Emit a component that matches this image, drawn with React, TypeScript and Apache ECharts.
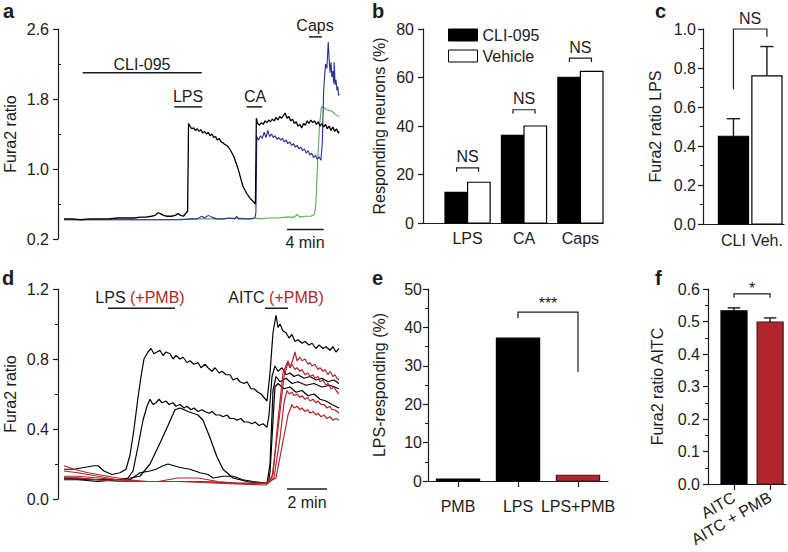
import React, { useEffect, useRef } from 'react';
import * as echarts from 'echarts';

const FONT = "'Liberation Sans', Arial, Helvetica, sans-serif";
const INK = '#1c1c1c';
const RED = '#b2262d';
const RED_EDGE = '#4a1214';
const BLUE = '#2c3092';
const GREEN = '#58ad4c';

// ---------- panel a : Fura2 traces (time in min, ratio) ----------
const aBlack = [[0.65,0.43],[1.5,0.43],[2.5,0.42],[3.5,0.43],[4.5,0.43],[5.5,0.43],[6.5,0.44],[7.5,0.44],[8.3,0.44],[9,0.45],[9.6,0.45],[10.2,0.46],[10.6,0.47],[10.9,0.50],[11.2,0.49],[11.5,0.47],[11.9,0.46],[12.4,0.46],[12.8,0.47],[13.1,0.49],[13.4,0.47],[13.7,0.46],[14.0,0.50],[14.15,0.52],[14.25,1.52],[14.4,1.49],[14.6,1.46],[14.8,1.47],[15.0,1.44],[15.2,1.46],[15.4,1.43],[15.6,1.45],[15.8,1.41],[16.0,1.43],[16.2,1.40],[16.4,1.42],[16.6,1.38],[16.8,1.40],[17.0,1.36],[17.2,1.37],[17.4,1.33],[17.6,1.35],[17.8,1.31],[18.0,1.30],[18.2,1.28],[18.4,1.27],[18.6,1.25],[18.8,1.22],[19.0,1.18],[19.2,1.14],[19.4,1.08],[19.6,1.02],[19.8,0.95],[20.0,0.87],[20.2,0.80],[20.4,0.76],[20.6,0.72],[20.8,0.69],[21.0,0.66],[21.2,0.64],[21.4,0.62],[21.55,0.60],[21.65,1.58],[21.8,1.52],[22.0,1.50],[22.2,1.53],[22.4,1.51],[22.6,1.55],[22.8,1.53],[23.0,1.56],[23.2,1.54],[23.4,1.57],[23.6,1.55],[23.8,1.59],[24.0,1.56],[24.2,1.60],[24.4,1.58],[24.6,1.61],[24.8,1.64],[25.0,1.58],[25.2,1.60],[25.4,1.55],[25.6,1.57],[25.8,1.52],[26.0,1.54],[26.2,1.49],[26.4,1.51],[26.6,1.47],[26.8,1.52],[27.0,1.50],[27.2,1.55],[27.4,1.52],[27.6,1.56],[27.8,1.53],[28.0,1.55],[28.2,1.51],[28.4,1.54],[28.6,1.49],[28.8,1.52],[29.0,1.48],[29.2,1.51],[29.4,1.46],[29.6,1.49],[29.8,1.44],[30.0,1.48],[30.2,1.43],[30.4,1.46],[30.6,1.41],[30.7,1.43]];
const aBlue = [[0.65,0.42],[2,0.42],[4,0.42],[6,0.42],[8,0.42],[10,0.42],[12,0.42],[13.5,0.42],[14.5,0.43],[15.2,0.43],[15.7,0.46],[16.0,0.44],[16.4,0.47],[16.8,0.45],[17.3,0.43],[18,0.43],[18.7,0.44],[19.3,0.43],[19.5,0.46],[19.7,0.43],[20.3,0.43],[21,0.43],[21.5,0.44],[21.6,0.50],[21.7,1.37],[21.9,1.33],[22.1,1.38],[22.3,1.35],[22.5,1.42],[22.7,1.36],[22.9,1.44],[23.1,1.37],[23.3,1.40],[23.5,1.36],[23.7,1.38],[23.9,1.34],[24.1,1.36],[24.3,1.33],[24.5,1.35],[24.7,1.31],[24.9,1.33],[25.1,1.29],[25.3,1.31],[25.5,1.27],[25.7,1.29],[25.9,1.25],[26.1,1.27],[26.3,1.23],[26.5,1.25],[26.7,1.21],[26.9,1.23],[27.1,1.18],[27.3,1.21],[27.5,1.16],[27.7,1.18],[27.9,1.13],[28.1,1.16],[28.3,1.11],[28.5,1.14],[28.7,1.10],[28.85,1.30],[29.0,1.90],[29.2,2.20],[29.35,2.15],[29.5,2.45],[29.6,2.25],[29.7,2.10],[29.8,2.22],[29.9,2.05],[30.0,2.12],[30.1,1.98],[30.15,2.22],[30.25,1.96],[30.35,2.02],[30.45,1.90],[30.55,1.94],[30.62,1.84],[30.7,1.86]];
const aGreen = [[0.65,0.42],[3,0.42],[6,0.42],[9,0.42],[12,0.42],[15,0.43],[18,0.43],[19.5,0.44],[21,0.43],[21.6,0.44],[22,0.43],[23,0.44],[24,0.44],[25,0.45],[25.8,0.45],[26.1,0.48],[26.4,0.45],[27,0.46],[27.6,0.46],[28.0,0.48],[28.15,0.60],[28.35,1.10],[28.55,1.50],[28.75,1.71],[29.0,1.70],[29.3,1.68],[29.6,1.67],[29.9,1.66],[30.2,1.63],[30.5,1.61],[30.7,1.60]];
const aCliBar = [[2.7, 2.1], [15.7, 2.1]];
const aLpsBar = [[12.7, 1.71], [15.7, 1.71]];
const aCaBar = [[20.6, 1.71], [22.3, 1.71]];
const aCapsBar = [[27.4, 2.51], [28.8, 2.51]];
const aScaleBar = [[25.0, 0.31], [29.0, 0.31]];
const aTicks = [0.2, 1.0, 1.8, 2.6];
const aMinorTicks = [0.6, 1.4, 2.2];

// ---------- panel b ----------
const bCategories = ['LPS', 'CA', 'Caps'];
const bCli = [12.6, 36.1, 60.1];
const bVehicle = [16.8, 40.0, 62.5];
const bBracketY = [22.7, 46.7, 68.0];
const bBracketText = ['NS', 'NS', 'NS'];

// ---------- panel c ----------
const cCategories = ['CLI', 'Veh.'];
const cMeans = [0.45, 0.76];
const cErrors = [0.09, 0.15];
const cBracket = [[0, 1, 1.0, 0.69, 0.96]];
const cBracketText = ['NS'];

// ---------- panel d : traces (time in min, ratio) ----------
const dBlack1 = [[0.3,0.17],[0.8,0.17],[1.3,0.18],[1.8,0.19],[2.0,0.19],[2.3,0.16],[2.7,0.14],[3.1,0.15],[3.4,0.17],[3.6,0.25],[3.8,0.40],[4.0,0.58],[4.15,0.70],[4.3,0.80],[4.5,0.84],[4.65,0.86],[4.8,0.83],[4.95,0.84],[5.1,0.85],[5.25,0.82],[5.4,0.84],[5.6,0.83],[5.75,0.80],[5.9,0.82],[6.1,0.80],[6.25,0.81],[6.45,0.78],[6.6,0.79],[6.8,0.77],[7.0,0.78],[7.15,0.75],[7.35,0.77],[7.5,0.75],[7.7,0.73],[7.85,0.75],[8.05,0.72],[8.2,0.73],[8.4,0.71],[8.6,0.71],[8.75,0.68],[8.95,0.69],[9.1,0.67],[9.3,0.66],[9.45,0.67],[9.65,0.63],[9.8,0.63],[10.0,0.61],[10.15,0.60],[10.3,0.58],[10.45,0.56],[10.6,0.72],[10.75,0.95],[10.9,1.05],[11.0,0.98],[11.1,1.00],[11.25,0.96],[11.4,0.95],[11.55,0.92],[11.7,0.94],[11.85,0.90],[12.0,0.91],[12.2,0.89],[12.35,0.90],[12.55,0.88],[12.7,0.89],[12.9,0.86],[13.05,0.88],[13.25,0.86],[13.4,0.87],[13.6,0.85],[13.75,0.87],[13.9,0.84],[14.05,0.86]];
const dBlack2 = [[0.3,0.11],[1.0,0.11],[2.0,0.10],[3.0,0.11],[3.5,0.12],[3.75,0.16],[4.0,0.30],[4.25,0.45],[4.45,0.53],[4.6,0.57],[4.75,0.54],[4.9,0.55],[5.05,0.57],[5.2,0.55],[5.4,0.56],[5.55,0.54],[5.75,0.55],[5.9,0.53],[6.1,0.54],[6.3,0.52],[6.45,0.53],[6.65,0.51],[6.8,0.52],[7.0,0.50],[7.2,0.51],[7.35,0.50],[7.55,0.49],[7.7,0.50],[7.9,0.48],[8.1,0.48],[8.25,0.47],[8.45,0.48],[8.6,0.46],[8.8,0.46],[8.95,0.45],[9.15,0.46],[9.3,0.44],[9.5,0.44],[9.7,0.43],[9.85,0.44],[10.05,0.42],[10.25,0.43],[10.45,0.41],[10.55,0.48],[10.7,0.70],[10.85,0.76],[11.0,0.73],[11.2,0.75],[11.4,0.71],[11.6,0.72],[11.8,0.70],[12.0,0.71],[12.3,0.69],[12.6,0.70],[12.9,0.68],[13.2,0.69],[13.5,0.67],[13.8,0.68],[14.05,0.66]];
const dBlack3 = [[0.3,0.12],[1.0,0.12],[2.0,0.11],[3.0,0.11],[3.6,0.12],[4.1,0.13],[4.6,0.20],[5.1,0.32],[5.5,0.42],[5.85,0.51],[6.1,0.52],[6.5,0.50],[7.0,0.48],[7.25,0.45],[7.6,0.35],[7.95,0.24],[8.25,0.17],[8.75,0.12],[9.45,0.10],[10.0,0.09],[10.5,0.09],[10.6,0.15],[10.75,0.45],[10.85,0.64],[11.0,0.66],[11.3,0.63],[11.6,0.64],[11.9,0.61],[12.2,0.62],[12.5,0.59],[12.8,0.60],[13.1,0.57],[13.4,0.56],[13.7,0.54],[14.05,0.52]];
const dBlack4 = [[0.3,0.12],[1.5,0.11],[3.0,0.11],[3.6,0.11],[4.1,0.15],[4.6,0.16],[4.9,0.17],[5.25,0.19],[5.5,0.20],[5.8,0.19],[6.1,0.18],[6.6,0.17],[7.1,0.15],[7.5,0.14],[7.75,0.12],[8.25,0.13],[8.75,0.13],[9.25,0.11],[9.75,0.10],[10.45,0.09],[10.6,0.20],[10.75,0.62],[10.9,0.70],[11.1,0.67],[11.4,0.69],[11.7,0.66],[12.0,0.67],[12.4,0.65],[12.8,0.66],[13.2,0.64],[13.6,0.65],[14.05,0.63]];
const dRed1 = [[0.3,0.19],[0.8,0.17],[1.5,0.15],[2.5,0.13],[3.5,0.11],[4.5,0.10],[5.5,0.10],[6.5,0.10],[7.5,0.10],[8.5,0.09],[9.5,0.09],[10.4,0.09],[10.7,0.12],[11.0,0.40],[11.3,0.70],[11.5,0.78],[11.6,0.75],[11.75,0.80],[11.85,0.84],[11.95,0.79],[12.1,0.81],[12.2,0.79],[12.35,0.80],[12.5,0.77],[12.6,0.78],[12.7,0.76],[12.85,0.77],[13.0,0.74],[13.1,0.75],[13.25,0.73],[13.35,0.74],[13.5,0.71],[13.6,0.73],[13.75,0.70],[13.85,0.71],[13.95,0.69],[14.05,0.68]];
const dRed2 = [[0.3,0.16],[1.0,0.15],[2.0,0.13],[3.0,0.11],[4.0,0.10],[5.0,0.10],[5.5,0.11],[6.0,0.12],[6.5,0.12],[7.0,0.12],[7.5,0.11],[8.0,0.10],[9.0,0.09],[10.4,0.09],[10.75,0.14],[11.0,0.45],[11.25,0.72],[11.5,0.79],[11.6,0.75],[11.7,0.77],[11.85,0.74],[11.95,0.75],[12.1,0.73],[12.2,0.74],[12.35,0.71],[12.5,0.72],[12.6,0.70],[12.75,0.71],[12.85,0.69],[13.0,0.70],[13.1,0.67],[13.25,0.68],[13.4,0.65],[13.5,0.66],[13.65,0.63],[13.8,0.64],[13.9,0.62],[14.05,0.60]];
const dRed3 = [[0.3,0.13],[1.0,0.13],[2.0,0.12],[3.0,0.11],[4.0,0.10],[6.0,0.10],[8.0,0.09],[10.4,0.08],[10.8,0.12],[11.1,0.35],[11.3,0.55],[11.45,0.62],[11.55,0.60],[11.7,0.61],[11.8,0.59],[11.95,0.60],[12.1,0.58],[12.2,0.59],[12.35,0.57],[12.5,0.58],[12.6,0.56],[12.75,0.57],[12.9,0.55],[13.0,0.56],[13.15,0.54],[13.3,0.54],[13.45,0.52],[13.6,0.53],[13.7,0.51],[13.85,0.51],[13.95,0.50],[14.05,0.49]];
const dRed4 = [[0.3,0.12],[1.0,0.12],[2.0,0.11],[3.0,0.10],[5.0,0.10],[7.0,0.10],[9.0,0.09],[10.4,0.09],[10.9,0.12],[11.2,0.30],[11.5,0.48],[11.7,0.54],[11.8,0.52],[11.95,0.53],[12.1,0.51],[12.2,0.52],[12.35,0.50],[12.5,0.51],[12.6,0.49],[12.75,0.50],[12.9,0.48],[13.0,0.49],[13.15,0.47],[13.3,0.48],[13.45,0.46],[13.6,0.47],[13.75,0.45],[13.9,0.46],[14.05,0.45]];
const dLpsBar = [[2.5, 1.09], [5.85, 1.09]];
const dAitcBar = [[10.35, 1.09], [11.5, 1.09]];
const dScaleBar = [[11.45, 0.057], [13.45, 0.057]];

// ---------- panel e ----------
const eCategories = ['PMB', 'LPS', 'LPS+PMB'];
const eValues = [0.5, 37.2, 1.5];
const eBracket = [[1, 2, 44.0, 42.4, 28.4]];
const eBracketText = ['***'];

// ---------- panel f ----------
const fCategories = ['AITC', 'AITC + PMB'];
const fMeans = [0.533, 0.498];
const fErrors = [0.009, 0.013];
const fBracket = [[0, 1, 0.585, 0.573, 0.573]];
const fBracketText = ['*'];

const txt = { color: INK, fontSize: 16, fontFamily: FONT };

function yAx(gi: number, min: number, max: number, interval: number | undefined, name: string, nameGap: number, margin: number, fmt: (v: number) => string, minor: boolean) {
  return {
    type: 'value', gridIndex: gi, min, max, interval,
    name, nameLocation: 'middle', nameGap, nameTextStyle: { ...txt },
    axisLine: { show: true, onZero: false, lineStyle: { color: INK, width: 1.2 } },
    axisTick: { show: true, length: 5, lineStyle: { color: INK, width: 1.2 } },
    minorTick: { show: minor, splitNumber: 2, length: 3, lineStyle: { color: INK, width: 1 } },
    axisLabel: { ...txt, margin, formatter: fmt },
    splitLine: { show: false }, minorSplitLine: { show: false },
  };
}

function xCat(gi: number, min: number, max: number, cats: string[], ticks: boolean, margin: number, rotate = 0, fontSize = 16) {
  const idx = cats.map((_, i) => i);
  return {
    type: 'value', gridIndex: gi, min, max,
    axisLine: { show: true, onZero: false, lineStyle: { color: INK, width: 1.2 } },
    axisTick: { show: ticks, customValues: idx, length: 6, lineStyle: { color: INK, width: 1.2 } },
    axisLabel: { customValues: idx, formatter: (v: number) => cats[Math.round(v)] ?? '', ...txt, fontSize, margin, rotate },
    splitLine: { show: false },
  };
}

const lineS = (data: number[][], color: string, width: number, gi: number, yi: number) => ({
  type: 'line', data, xAxisIndex: gi, yAxisIndex: yi, showSymbol: false, symbol: 'none',
  lineStyle: { color, width }, itemStyle: { color }, silent: true, clip: false,
});

const barS = (name: string, values: number[], gi: number, x0: number, x1: number, fill: string, stroke: string) => ({
  type: 'custom', name, xAxisIndex: gi, yAxisIndex: gi,
  data: values.map((v, i) => [i, v]),
  itemStyle: { color: fill, borderColor: stroke, borderWidth: 1 },
  renderItem: (_p: any, api: any) => {
    const i = api.value(0), v = api.value(1);
    const tl = api.coord([i + x0, v]);
    const br = api.coord([i + x1, 0]);
    return { type: 'rect', shape: { x: tl[0], y: tl[1], width: br[0] - tl[0], height: br[1] - tl[1] }, style: { fill, stroke, lineWidth: 1.2 } };
  },
});

const errS = (means: number[], errs: number[], gi: number, cap: number) => ({
  type: 'custom', xAxisIndex: gi, yAxisIndex: gi, silent: true,
  data: means.map((m, i) => [i, m, errs[i]]),
  renderItem: (_p: any, api: any) => {
    const i = api.value(0), m = api.value(1), e = api.value(2);
    const a = api.coord([i, m]);
    const b = api.coord([i, m + e]);
    const hw = api.size([cap, 0])[0] / 2;
    const st = { stroke: INK, lineWidth: 1.4 };
    return { type: 'group', children: [
      { type: 'line', shape: { x1: a[0], y1: a[1], x2: b[0], y2: b[1] }, style: st },
      { type: 'line', shape: { x1: b[0] - hw, y1: b[1], x2: b[0] + hw, y2: b[1] }, style: st },
    ] };
  },
});

const brS = (data: number[][], texts: string[], gi: number, gap: number) => ({
  type: 'custom', xAxisIndex: gi, yAxisIndex: gi, silent: true, clip: false,
  data,
  renderItem: (p: any, api: any) => {
    const x1 = api.value(0), x2 = api.value(1), yt = api.value(2), yl = api.value(3), yr = api.value(4);
    const a = api.coord([x1, yl]), b = api.coord([x1, yt]), c = api.coord([x2, yt]), d = api.coord([x2, yr]);
    return { type: 'group', children: [
      { type: 'polyline', shape: { points: [a, b, c, d] }, style: { stroke: INK, lineWidth: 1.2, fill: null } },
      { type: 'text', style: { text: texts[p.dataIndex], x: (b[0] + c[0]) / 2, y: b[1] - gap, align: 'center', verticalAlign: 'middle', fontSize: 16, fontFamily: FONT, fill: INK } },
    ] };
  },
});

const bHalf = 0.195;
const bBrackets = bBracketY.map((y, i) => [i - bHalf, i + bHalf, y, y - 1.6, y - 1.6]);

const T = (text: string, x: number, y: number, extra: any = {}) => ({
  type: 'text', x, y, silent: true,
  style: { text, fill: INK, font: `16px ${FONT}`, align: 'center', verticalAlign: 'middle', ...extra },
});
const L = (text: string, x: number, y: number) => T(text, x, y, { font: `bold 20px ${FONT}`, align: 'left' });
const richT = (a: string, b: string, x: number, y: number) => ({
  type: 'text', x, y, silent: true,
  style: {
    text: `{k|${a} }{r|${b}}`, align: 'center', verticalAlign: 'middle', font: `16px ${FONT}`,
    rich: { k: { fill: INK, font: `16px ${FONT}` }, r: { fill: RED, font: `16px ${FONT}` } },
  },
});

const fmt1 = (v: number) => v.toFixed(1);
const fmt0 = (v: number) => String(Math.round(v));

const option: any = {
  animation: false,
  backgroundColor: '#ffffff',
  grid: [
    { left: 58, top: 29, width: 284, height: 210, outerBoundsMode: 'none' },
    { left: 423, top: 29, width: 180, height: 194, outerBoundsMode: 'none' },
    { left: 703, top: 29, width: 81, height: 195, outerBoundsMode: 'none' },
    { left: 58, top: 289, width: 284, height: 210, outerBoundsMode: 'none' },
    { left: 428, top: 289, width: 180, height: 192, outerBoundsMode: 'none' },
    { left: 708, top: 289, width: 78, height: 195, outerBoundsMode: 'none' },
  ],
  xAxis: [
    { type: 'value', gridIndex: 0, min: 0, max: 31, show: false },
    xCat(1, -0.79, 2.4, bCategories, false, 7),
    xCat(2, -0.91, 1.51, cCategories, false, 8),
    { type: 'value', gridIndex: 3, min: 0, max: 14.2, show: false },
    xCat(4, -0.5, 2.5, eCategories, true, 17),
    xCat(5, -0.72, 1.44, fCategories, true, 12, 30, 16),
  ],
  yAxis: [
    {
      ...yAx(0, 0.2, 2.6, undefined, 'Fura2 ratio', 40, 9, fmt1, false),
      axisTick: { show: true, length: 5, customValues: aTicks, lineStyle: { color: INK, width: 1.2 } },
      axisLabel: { ...txt, margin: 9, customValues: aTicks, formatter: fmt1 },
    },
    yAx(1, 0, 80, 20, 'Responding neurons (%)', 36, 9, fmt0, false),
    yAx(2, 0, 1, 0.2, 'Fura2 ratio LPS', 40, 7, fmt1, true),
    yAx(3, 0, 1.2, 0.4, 'Fura2 ratio', 40, 9, fmt1, true),
    yAx(4, 0, 50, 10, 'LPS-responding (%)', 41, 6, fmt0, true),
    yAx(5, 0, 0.6, 0.1, 'Fura2 ratio AITC', 43, 8, fmt1, true),
    {
      type: 'value', gridIndex: 0, min: 0.2, max: 2.6,
      axisLine: { show: false }, axisLabel: { show: false }, splitLine: { show: false },
      axisTick: { show: true, length: 3, customValues: aMinorTicks, lineStyle: { color: INK, width: 1 } },
    },
  ],
  legend: {
    orient: 'vertical', left: 443, top: 22, itemWidth: 29, itemHeight: 12, itemGap: 5,
    icon: 'rect', selectedMode: false, data: ['CLI-095', 'Vehicle'],
    textStyle: { ...txt },
    itemStyle: { borderColor: '#000', borderWidth: 1 },
  },
  series: [
    // panel a
    lineS(aGreen, GREEN, 1.1, 0, 0),
    lineS(aBlue, BLUE, 1.1, 0, 0),
    lineS(aBlack, '#000', 1.3, 0, 0),
    lineS(aCliBar, INK, 1.5, 0, 0),
    lineS(aLpsBar, INK, 1.5, 0, 0),
    lineS(aCaBar, INK, 1.5, 0, 0),
    lineS(aCapsBar, INK, 1.5, 0, 0),
    lineS(aScaleBar, INK, 1.5, 0, 0),
    // panel b
    barS('CLI-095', bCli, 1, -0.4, 0, '#000', '#000'),
    barS('Vehicle', bVehicle, 1, 0, 0.4, '#fff', '#000'),
    brS(bBrackets, bBracketText, 1, 11),
    // panel c
    errS(cMeans, cErrors, 2, 0.4),
    barS('c', [cMeans[0]], 2, -0.45, 0.45, '#000', '#000'),
    { ...barS('c2', cMeans, 2, -0.45, 0.45, '#fff', '#000'), data: [[1, cMeans[1]]] },
    brS(cBracket, cBracketText, 2, 11),
    // panel d
    lineS(dBlack4, '#000', 1.2, 3, 3),
    lineS(dBlack3, '#000', 1.2, 3, 3),
    lineS(dBlack2, '#000', 1.2, 3, 3),
    lineS(dBlack1, '#000', 1.2, 3, 3),
    lineS(dRed4, RED, 1.2, 3, 3),
    lineS(dRed3, RED, 1.2, 3, 3),
    lineS(dRed2, RED, 1.2, 3, 3),
    lineS(dRed1, RED, 1.2, 3, 3),
    lineS(dLpsBar, INK, 1.5, 3, 3),
    lineS(dAitcBar, INK, 1.5, 3, 3),
    lineS(dScaleBar, INK, 1.5, 3, 3),
    // panel e
    { ...barS('e1', eValues, 4, -0.36, 0.36, '#000', '#000'), data: [[0, eValues[0]], [1, eValues[1]]] },
    { ...barS('e2', eValues, 4, -0.36, 0.36, RED, RED_EDGE), data: [[2, eValues[2]]] },
    brS(eBracket, eBracketText, 4, 9),
    // panel f
    errS(fMeans, fErrors, 5, 0.35),
    { ...barS('f1', fMeans, 5, -0.36, 0.36, '#000', '#000'), data: [[0, fMeans[0]]] },
    { ...barS('f2', fMeans, 5, -0.36, 0.36, RED, RED_EDGE), data: [[1, fMeans[1]]] },
    brS(fBracket, fBracketText, 5, 5),
  ],
  graphic: [
    L('a', 3, 11), L('b', 372, 11), L('c', 655, 11),
    L('d', 2, 278), L('e', 372, 278), L('f', 655, 278),
    T('CLI-095', 142, 64), T('LPS', 188, 96), T('CA', 255, 96), T('Caps', 315, 25), T('4 min', 305, 242),
    richT('LPS', '(+PMB)', 140, 297), richT('AITC', '(+PMB)', 276, 297), T('2 min', 307, 502),
  ],
};

export default function App() {
  const ref = useRef<HTMLDivElement>(null);
  useEffect(() => {
    document.body.style.margin = '0';
    const chart = echarts.init(ref.current!, null, { renderer: 'svg' });
    chart.setOption(option);
    return () => chart.dispose();
  }, []);
  return <div ref={ref} style={{ width: 788, height: 552 }} />;
}
